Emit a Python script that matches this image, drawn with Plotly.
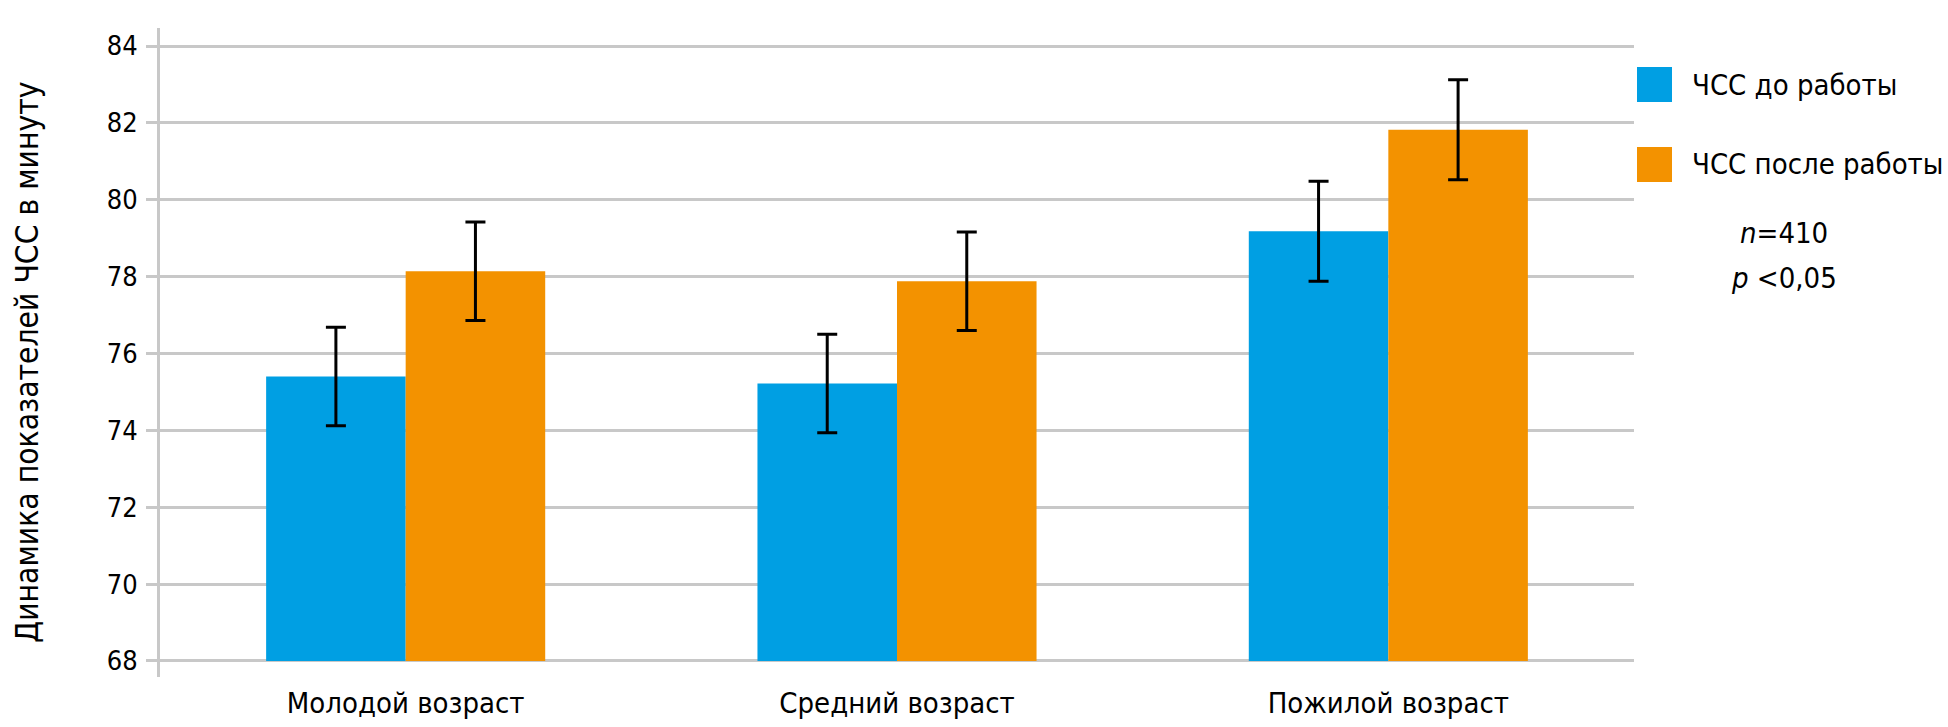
import plotly.graph_objects as go

categories = ["Молодой возраст", "Средний возраст", "Пожилой возраст"]
series_names = ["ЧСС до работы", "ЧСС после работы"]
before_values = [75.4, 75.22, 79.18]
after_values = [78.14, 77.88, 81.82]
before_err = [1.28, 1.28, 1.3]
after_err = [1.28, 1.28, 1.3]
colors = ["#009FE3", "#F39200"]
y_ticks = [68, 70, 72, 74, 76, 78, 80, 82, 84]
y_title = "Динамика показателей ЧСС в минуту"
note_lines = ["<i>n</i>=410", "<i>p</i> &lt;0,05"]

BASE = 68
W, H = 1948, 727
L, R, T, B = 160, 314, 28, 50
PW, PH = W - L - R, H - T - B

FONT = "DejaVu Sans Condensed, Liberation Sans Narrow, sans-serif"

def px_x(px):
    return (px - L) / PW

def px_y(py):
    return (H - B - py) / PH

fig = go.Figure()
for name, vals, errs, col in zip(series_names, [before_values, after_values],
                                 [before_err, after_err], colors):
    fig.add_trace(go.Bar(
        x=categories,
        y=[v - BASE for v in vals],
        base=BASE,
        name=name,
        marker=dict(color=col, line=dict(width=0)),
        error_y=dict(type="data", array=errs, visible=True,
                     color="black", thickness=3, width=10),
        customdata=vals,
        hovertemplate="%{x}: %{customdata}<extra>" + name + "</extra>",
        showlegend=False,
    ))

fig.update_layout(
    width=W, height=H,
    margin=dict(l=L, r=R, t=T, b=B, pad=0, autoexpand=False),
    paper_bgcolor="white", plot_bgcolor="white",
    barmode="group", bargap=0.432, bargroupgap=0,
    font=dict(family=FONT, color="black"),
    xaxis=dict(
        automargin=False,
        showline=False, ticks="", showgrid=False,
        tickfont=dict(size=29, family=FONT, color="black"),
        ticklabelstandoff=6,
    ),
    yaxis=dict(
        automargin=False,
        range=[BASE - 16 / 38.42, 84 + 18 / 38.42],
        tickvals=y_ticks,
        ticktext=[str(v) for v in y_ticks],
        showgrid=True, gridcolor="#c8c8c8", gridwidth=3,
        showline=True, linecolor="#c8c8c8", linewidth=3,
        ticks="outside", ticklen=11, tickwidth=3, tickcolor="#c8c8c8",
        tickfont=dict(size=27, family=FONT, color="black"),
        ticklabelstandoff=3,
        zeroline=False,
    ),
)

# y-axis title
fig.add_annotation(
    text=y_title, xref="paper", yref="paper",
    x=px_x(27), y=px_y(362), xanchor="center", yanchor="middle",
    textangle=-90, showarrow=False,
    font=dict(size=31.5, family=FONT, color="black"),
)

# custom legend
legend_tops = [67, 147]
for name, col, top in zip(series_names, colors, legend_tops):
    fig.add_shape(type="rect", xref="paper", yref="paper",
                  x0=px_x(1637), x1=px_x(1672), y0=px_y(top + 35), y1=px_y(top),
                  fillcolor=col, line=dict(width=0))
    fig.add_annotation(text=name, xref="paper", yref="paper",
                       x=px_x(1690), y=px_y(top + 17.5),
                       xanchor="left", yanchor="middle", showarrow=False,
                       font=dict(size=29, family=FONT, color="black"))

for txt, cy in zip(note_lines, [233, 278]):
    fig.add_annotation(text=txt, xref="paper", yref="paper",
                       x=px_x(1784), y=px_y(cy),
                       xanchor="center", yanchor="middle", showarrow=False,
                       font=dict(size=29, family=FONT, color="black"))

fig.write_html("out.html",
               config={"displayModeBar": False},
               post_script="document.body.style.margin='0';document.body.style.overflow='hidden';")
